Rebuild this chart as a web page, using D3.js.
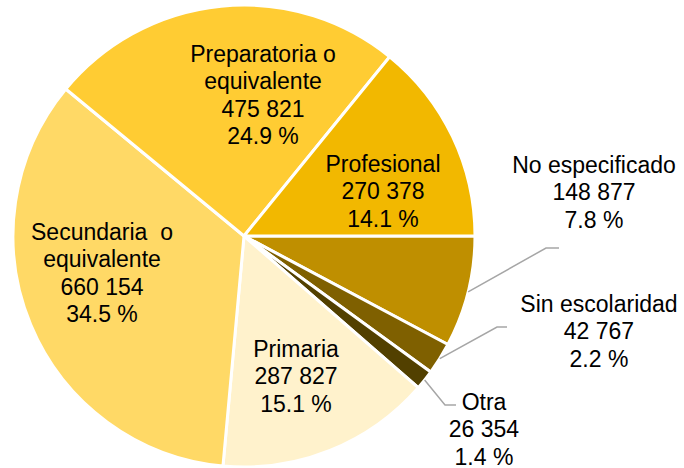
<!DOCTYPE html>
<html>
<head>
<meta charset="utf-8">
<script src="https://cdn.jsdelivr.net/npm/d3@7"></script>
<style>
  body { margin: 0; background: #fff; }
  svg { display: block; }
  text { font-family: "Liberation Sans", Arial, sans-serif; font-size: 23px; fill: #000; }
</style>
</head>
<body>
<svg id="pie" width="684" height="468"></svg>
<script>
// Data, clockwise from 3 o'clock
var categories = ["No especificado", "Sin escolaridad", "Otra", "Primaria", "Secundaria  o equivalente", "Preparatoria o equivalente", "Profesional"];
var values = [148877, 42767, 26354, 287827, 660154, 475821, 270378];
var percents = ["7.8 %", "2.2 %", "1.4 %", "15.1 %", "34.5 %", "24.9 %", "14.1 %"];
var colors = ["#BF8F00", "#7F6000", "#524000", "#FFF2CC", "#FFD966", "#FFCC33", "#F2B800"];

// label first lines (split where the original breaks)
var labelLines = [
  ["No especificado"],
  ["Sin escolaridad"],
  ["Otra"],
  ["Primaria"],
  ["Secundaria  o", "equivalente"],
  ["Preparatoria o", "equivalente"],
  ["Profesional"]
];

var svg = d3.select("#pie"),
  cx = 244, cy = 236, radius = 231;

var format = function(v) { return d3.format(",d")(v).replace(/,/g, " "); };

var pie = d3.pie().sort(null).value(function(d) { return d; })
  .startAngle(Math.PI / 2).endAngle(Math.PI / 2 + 2 * Math.PI);
var arcs = pie(values);

var arc = d3.arc().innerRadius(0).outerRadius(radius);
var outer = d3.arc().innerRadius(radius).outerRadius(radius);

var g = svg.append("g").attr("transform", "translate(" + cx + "," + cy + ")");

g.selectAll("path")
  .data(arcs)
  .enter()
  .append("path")
  .attr("d", arc)
  .attr("fill", function(d, i) { return colors[i]; })
  .attr("stroke", "#fff")
  .attr("stroke-width", 3)
  .attr("stroke-linejoin", "round");

// label anchors (centre x, first baseline), relative to page
var labelPos = [
  [594, 173], [599, 312], [484, 410], [296, 357], [102, 240], [263, 62], [383, 172]
];
var lineH = 27.3;

// leader lines for the outside labels: [elbow x, elbow y, end x]
var leaders = { 0: [546, 248, 559], 1: [497, 327, 507], 2: [445, 405, 456] };

Object.keys(leaders).forEach(function(k) {
  var i = +k, c = outer.centroid(arcs[i]), e = leaders[k];
  svg.append("polyline")
    .attr("points", [[cx + c[0], cy + c[1]], [e[0], e[1]], [e[2], e[1]]].map(function(p) { return p.join(","); }).join(" "))
    .attr("fill", "none")
    .attr("stroke", "#A6A6A6")
    .attr("stroke-width", 1.5);
});

categories.forEach(function(c, i) {
  var lines = labelLines[i].concat([format(values[i]), percents[i]]);
  var t = svg.append("text")
    .attr("x", labelPos[i][0])
    .attr("y", labelPos[i][1])
    .attr("text-anchor", "middle")
    .style("white-space", "pre");
  lines.forEach(function(l, j) {
    t.append("tspan")
      .attr("x", labelPos[i][0])
      .attr("y", labelPos[i][1] + j * lineH)
      .text(l);
  });
});
</script>
</body>
</html>
